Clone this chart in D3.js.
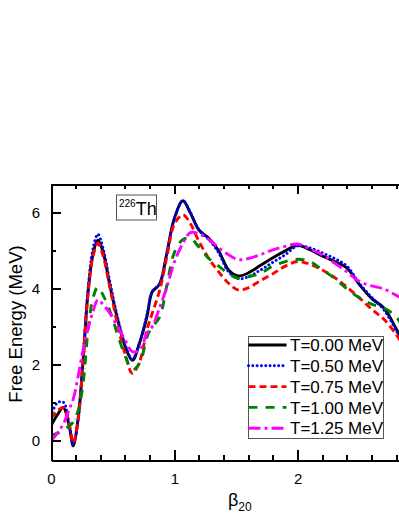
<!DOCTYPE html>
<html lang="en">
<head>
  <meta charset="UTF-8">
  <title>Free Energy 226Th</title>
  <script src="https://d3js.org/d3.v7.min.js"></script>
  <style>
    body { margin: 0; background: #fff; }
    svg { display: block; font-family: "Liberation Sans", Arial, sans-serif; }
    .axis path, .axis line { stroke: #000; stroke-width: 2; shape-rendering: crispEdges; }
    .axis text { font-size: 15px; fill: #000; }
    .curve { fill: none; stroke-width: 2.9; }
  </style>
</head>
<body>
  <svg width="399" height="516"></svg>

  <script>
    // deformation grid shared by all temperatures
    const beta = [0, 0.05, 0.1, 0.15, 0.18, 0.22, 0.26, 0.3, 0.34, 0.38, 0.42, 0.48, 0.54, 0.6, 0.66,
                  0.72, 0.78, 0.82, 0.88, 0.94, 1.0, 1.07, 1.13, 1.2, 1.28, 1.36, 1.44, 1.52, 1.6,
                  1.7, 1.8, 1.9, 2.0, 2.1, 2.2, 2.3, 2.4, 2.5, 2.6, 2.7, 2.8, 2.85];

    const fT000 = [0.40, 0.68, 0.88, 0.35, -0.13, 0.6, 2.1, 3.9, 4.9, 5.29, 5.0, 4.05, 3.2, 2.5, 2.12,
                   2.6, 3.3, 3.92, 4.12, 4.95, 5.85, 6.32, 6.0, 5.55, 5.33, 5.0, 4.5, 4.34, 4.42,
                   4.62, 4.82, 5.0, 5.15, 5.03, 4.87, 4.72, 4.55, 4.12, 3.75, 3.5, 2.95, 2.65];
    const fT050 = [0.65, 1.0, 1.02, 0.4, -0.1, 0.55, 2.2, 4.0, 5.05, 5.44, 5.1, 4.15, 3.25, 2.55, 2.15,
                   2.6, 3.35, 3.92, 4.14, 4.95, 5.85, 6.32, 6.02, 5.55, 5.3, 4.95, 4.45, 4.27, 4.32,
                   4.5, 4.7, 4.9, 5.13, 5.08, 4.95, 4.8, 4.6, 4.15, 3.78, 3.45, 2.9, 2.6];
    const fT075 = [0.6, 0.78, 0.88, 0.4, -0.05, 0.55, 2.1, 3.85, 4.85, 5.2, 4.9, 4.0, 3.05, 2.3, 1.78,
                   2.1, 2.95, 3.35, 3.95, 4.85, 5.7, 5.95, 5.72, 5.25, 4.8, 4.45, 4.15, 3.97, 4.03,
                   4.22, 4.4, 4.6, 4.72, 4.65, 4.5, 4.3, 4.05, 3.77, 3.47, 3.2, 2.8, 2.55];
    const fT100 = [0.15, 0.2, 0.3, 0.4, 0.5, 0.8, 1.5, 2.9, 3.75, 4.05, 3.85, 3.4, 2.8, 2.25, 1.87,
                   2.05, 2.75, 3.0, 3.25, 4.1, 4.95, 5.3, 5.33, 5.1, 4.8, 4.6, 4.4, 4.28, 4.32,
                   4.42, 4.6, 4.72, 4.78, 4.72, 4.5, 4.28, 4.0, 3.77, 3.6, 3.5, 3.27, 3.0];
    const fT125 = [0.0, 0.2, 0.45, 0.85, 1.1, 1.7, 2.4, 2.95, 3.4, 3.71, 3.6, 3.35, 3.0, 2.66, 2.35,
                   2.4, 2.85, 3.0, 3.5, 4.05, 4.7, 5.2, 5.48, 5.45, 5.3, 5.08, 4.9, 4.77, 4.8,
                   4.9, 5.03, 5.12, 5.18, 5.05, 4.9, 4.68, 4.45, 4.2, 4.08, 4.0, 3.83, 3.75];

    const labels = ["T=0.00 MeV", "T=0.50 MeV", "T=0.75 MeV", "T=1.00 MeV", "T=1.25 MeV"];
    const colors = ["#000000", "#0000ff", "#ff0000", "#008000", "#ff00ff"];
    const dashes = [null, "0.1,4.2", "7,4", "9,4,0.1,4", "12,4,3,4"];
    const values = [fT000, fT050, fT075, fT100, fT125];

    const xMajor = [0, 1, 2];
    const yMajor = [0, 2, 4, 6];

    const svg = d3.select("svg");
    const plotL = 51, plotT = 184, plotB = 460;

    const x = d3.scaleLinear().domain([0, 2.9]).range([plotL, plotL + 123.3 * 2.9]);
    const y = d3.scaleLinear().domain([-0.5, 6.76]).range([plotB, plotT]);

    svg.append("clipPath").attr("id", "plotclip")
      .append("rect").attr("x", plotL).attr("y", plotT)
      .attr("width", x(2.9) - plotL).attr("height", plotB - plotT);

    // curves
    const line = d3.line()
      .x(d => x(d[0]))
      .y(d => y(d[1]))
      .curve(d3.curveCatmullRom.alpha(0.5));

    const gCurves = svg.append("g").attr("clip-path", "url(#plotclip)");
    values.forEach((vals, i) => {
      gCurves.append("path")
        .datum(beta.map((b, j) => [b, vals[j]]))
        .attr("class", "curve")
        .attr("stroke", colors[i])
        .attr("stroke-dasharray", dashes[i])
        .attr("stroke-linecap", i === 1 ? "round" : "butt")
        .attr("d", line);
    });

    // minor ticks
    const xMinor = d3.range(0, 2.91, 0.2).filter(v => Math.abs(v - Math.round(v)) > 0.01);
    const yMinor = [1, 3, 5];

    svg.append("g").attr("class", "axis")
      .attr("transform", `translate(0,${plotB})`)
      .call(d3.axisBottom(x).tickValues(xMinor).tickSize(-5).tickFormat(""))
      .call(g => g.select(".domain").remove());
    svg.append("g").attr("class", "axis")
      .attr("transform", `translate(0,${plotT})`)
      .call(d3.axisTop(x).tickValues(xMinor).tickSize(-5).tickFormat(""))
      .call(g => g.select(".domain").remove());
    svg.append("g").attr("class", "axis")
      .attr("transform", `translate(${plotL},0)`)
      .call(d3.axisLeft(y).tickValues(yMinor).tickSize(-5).tickFormat(""))
      .call(g => g.select(".domain").remove());

    // major axes
    svg.append("g").attr("class", "axis")
      .attr("transform", `translate(0,${plotB})`)
      .call(d3.axisBottom(x).tickValues(xMajor).tickSize(-10).tickSizeOuter(0).tickPadding(13).tickFormat(d3.format("d")));
    svg.append("g").attr("class", "axis")
      .attr("transform", `translate(0,${plotT})`)
      .call(d3.axisTop(x).tickValues(xMajor).tickSize(-10).tickSizeOuter(0).tickFormat(""));
    svg.append("g").attr("class", "axis")
      .attr("transform", `translate(${plotL},0)`)
      .call(d3.axisLeft(y).tickValues(yMajor).tickSize(-10).tickSizeOuter(0).tickPadding(11).tickFormat(d3.format("d")));

    // axis titles
    svg.append("text")
      .attr("transform", `translate(22,${(plotT + plotB) / 2 + 2}) rotate(-90)`)
      .attr("text-anchor", "middle")
      .style("font-size", "18.5px")
      .text("Free Energy (MeV)");

    const xt = svg.append("text").attr("x", 228).attr("y", 506).style("font-size", "18px");
    xt.append("tspan").text("β");
    xt.append("tspan").attr("dy", 5).style("font-size", "12px").text("20");

    // nucleus label
    svg.append("rect")
      .attr("x", 116.5).attr("y", 195).attr("width", 40).attr("height", 25)
      .attr("fill", "none").attr("stroke", "#555").attr("stroke-width", 1);
    const nl = svg.append("text").attr("x", 119).attr("y", 215).style("font-size", "18px");
    nl.append("tspan").attr("dy", -8).style("font-size", "10px").text("226");
    nl.append("tspan").attr("dy", 8).text("Th");

    // legend
    const lg = svg.append("g").attr("transform", "translate(248.5,336.5)");
    lg.append("rect").attr("width", 135).attr("height", 102)
      .attr("fill", "#fff").attr("stroke", "#555").attr("stroke-width", 1);
    labels.forEach((lab, i) => {
      const yy = 8.5 + i * 20.8;
      lg.append("line")
        .attr("x1", 0).attr("x2", 38).attr("y1", yy).attr("y2", yy)
        .attr("stroke", colors[i]).attr("stroke-width", 2.9)
        .attr("stroke-dasharray", dashes[i])
        .attr("stroke-linecap", i === 1 ? "round" : "butt");
      lg.append("text")
        .attr("x", 41.5).attr("y", yy).attr("dy", "0.36em")
        .style("font-size", "17px")
        .text(lab);
    });
  </script>
</body>
</html>
